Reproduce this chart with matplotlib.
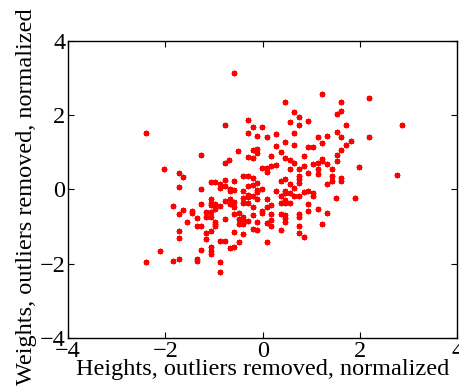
import matplotlib
matplotlib.use('Agg')
import matplotlib.pyplot as plt

# normalized heights / weights
heights = [
    -0.59, -2.40, -0.78, -0.31, -0.31, -1.27, -0.50, -0.69, -0.78, -0.31, -2.02,
    1.23, 0.46, 1.61, 2.19, 0.65, 1.61, 1.52, 0.75, 0.56, 0.94, 0.75, 1.71,
    -0.20, -0.01, 0.65, 0.27, 1.52, -0.11, 0.09, 1.14, 1.33, 1.62, 2.19, 1.81,
    0.46, 1.23, 0.65, 1.71, 0.27, 0.94, 1.04, -0.20, -0.11, -0.11, 1.62, 0.37,
    1.52, 0.18, 0.85, -0.20, 0.46, 0.56, 1.23, 1.23, 1.52, 0.65, 1.04, 1.14,
    1.33, 0.85, -0.01, 0.09, 0.27, 0.18, 1.99, 0.56, 0.75, 1.14, 1.42,
    2.86, 2.76, 1.61, 1.61, 1.51, 1.90,
    0.09, 1.14, 0.94, 1.42, 1.42, 1.33, -0.20, -0.11, -0.20, -0.01, -0.11, -0.11,
    0.37, 0.46, 0.56, 0.75, 0.75, 0.75, 0.65, 0.27, 0.56, 0.46, 0.46, 0.65,
    0.75, 0.85, 0.94, 1.04, 1.04, 0.37, 0.37, 0.46, 0.56, 0.46, 0.09, -0.11,
    -0.20, 0.18, -0.20, 0.09, 0.94, 0.94, 1.14, 1.33, -0.01, -0.01, -0.20, 0.18,
    0.18, 0.18, 0.37, 0.46, 0.46, 0.46, 0.75, 0.75, -0.11, 0.09, 1.23, -0.20,
    -0.11, 0.37, 0.75, 0.75, 0.85, 0.09,
    -1.73, -1.64, -1.73, -1.26, -1.07, -0.97, -0.87, -0.87, -0.78, -0.68, -0.68,
    -0.59, -0.59, -0.78, -0.40, -0.31, -0.41, -0.31, -0.31, -0.31, -1.26, -1.07,
    -1.07, -1.07, -0.97, -0.97, -0.87, -0.78, -0.68, -0.68, -0.59, -0.59, -0.40,
    -0.40, -0.31, -1.84, -1.64, -1.45, -1.45, -1.73, -1.16, -1.07, -1.16, -1.07,
    -0.97, -0.97, -0.97, -1.07, -1.16, -1.16, -1.35, -1.26, -1.35, -1.55, -0.78,
    -0.59, -0.49, -0.40, -0.40, -0.40, -0.49, -0.49, -0.31, -0.59, -0.40, -0.49,
    -0.87, -0.78, -0.68, -0.59, -1.73, -1.73, -1.07, -1.07, -1.07, -1.26, -2.12,
    -1.35, -1.35, -1.73, -1.84, -2.40, -0.87, -0.87,
]
weights = [
    3.15, 1.53, 1.73, 1.87, 1.53, 0.93, 1.04, 0.80, 0.70, 0.87, 0.55,
    2.57, 2.35, 2.37, 2.46, 2.09, 2.11, 2.04, 1.94, 1.81, 1.85, 1.74, 1.74,
    1.68, 1.68, 1.53, 1.50, 1.54, 1.45, 1.40, 1.42, 1.45, 1.42, 1.42, 1.30,
    1.27, 1.26, 1.21, 1.21, 1.16, 1.14, 1.15, 1.07, 1.09, 0.98, 1.07, 1.01,
    0.94, 0.91, 0.90, 0.85, 0.84, 0.79, 0.82, 0.76, 0.77, 0.71, 0.68, 0.71,
    0.69, 0.63, 0.59, 0.59, 0.66, 0.63, 0.60, 0.55, 0.55, 0.55, 0.55,
    1.73, 0.38, 0.31, 0.24, -0.24, -0.23,
    0.47, 0.41, 0.45, 0.35, 0.22, 0.15, 0.30, 0.18, 0.11, 0.01, -0.01, -0.07,
    0.23, 0.28, 0.15, 0.36, 0.28, 0.18, 0.03, -0.03, -0.09, -0.03, -0.10, -0.17,
    -0.18, -0.06, -0.03, -0.09, -0.19, -0.19, -0.37, -0.37, -0.36, -0.28, -0.25, -0.26,
    -0.18, -0.42, -0.48, -0.48, -0.39, -0.57, -0.52, -0.64, -0.57, -0.64, -0.69, -0.67,
    -0.82, -0.98, -0.65, -0.69, -0.78, -0.87, -0.67, -0.73, -0.88, -0.91, -0.93, -1.07,
    -1.08, -1.09, -0.98, -1.17, -1.27, -1.41,
    0.44, 0.33, 0.07, 0.01, 0.20, 0.20, 0.15, 0.03, 0.26, 0.02, -0.03,
    0.24, -0.01, 0.08, 0.35, 0.36, -0.03, 0.09, -0.15, -0.21, -0.40, -0.26,
    -0.36, -0.43, -0.40, -0.53, -0.44, -0.32, -0.26, -0.39, -0.34, -0.46, -0.24,
    -0.36, -0.36, -0.44, -0.56, -0.57, -0.63, -0.66, -0.60, -0.60, -0.74, -0.74,
    -0.87, -0.93, -0.98, -1.11, -1.18, -1.33, -0.78, -0.98, -0.98, -0.88, -0.80,
    -0.66, -0.64, -0.73, -0.82, -0.93, -0.80, -0.93, -0.84, -1.15, -1.21, -1.42,
    -1.39, -1.39, -1.58, -1.54, -1.12, -1.30, -1.56, -1.65, -1.74, -1.62, -1.66,
    -1.87, -1.92, -1.87, -1.93, -1.96, -1.95, -2.22,
]

ticks = [-4, -2, 0, 2, 4]

plt.rcParams['font.family'] = ['Liberation Serif', 'DejaVu Serif']

fig = plt.figure(figsize=(4.6, 3.87), dpi=100)
ax = fig.add_axes([0.148, 0.127, 0.846, 0.767])

ax.plot(heights, weights, linestyle='none', marker=(8, 2, 0),
        markersize=4, markeredgewidth=1.0, color='red')

ax.set_xlim(-4, 4)
ax.set_ylim(-4, 4)
ax.set_xticks(ticks)
ax.set_yticks(ticks)
ax.tick_params(direction='in', top=True, right=True, length=4,
               labelsize=17.5, pad=2)
for s in ax.spines.values():
    s.set_linewidth(1.0)

ax.set_xlabel('Heights, outliers removed, normalized', fontsize=17.5, labelpad=-2)
ax.set_ylabel('Weights, outliers removed, normalized', fontsize=17.5)
ax.yaxis.set_label_coords(-0.08, 0.475)

fig.savefig('out.png', dpi=100)
